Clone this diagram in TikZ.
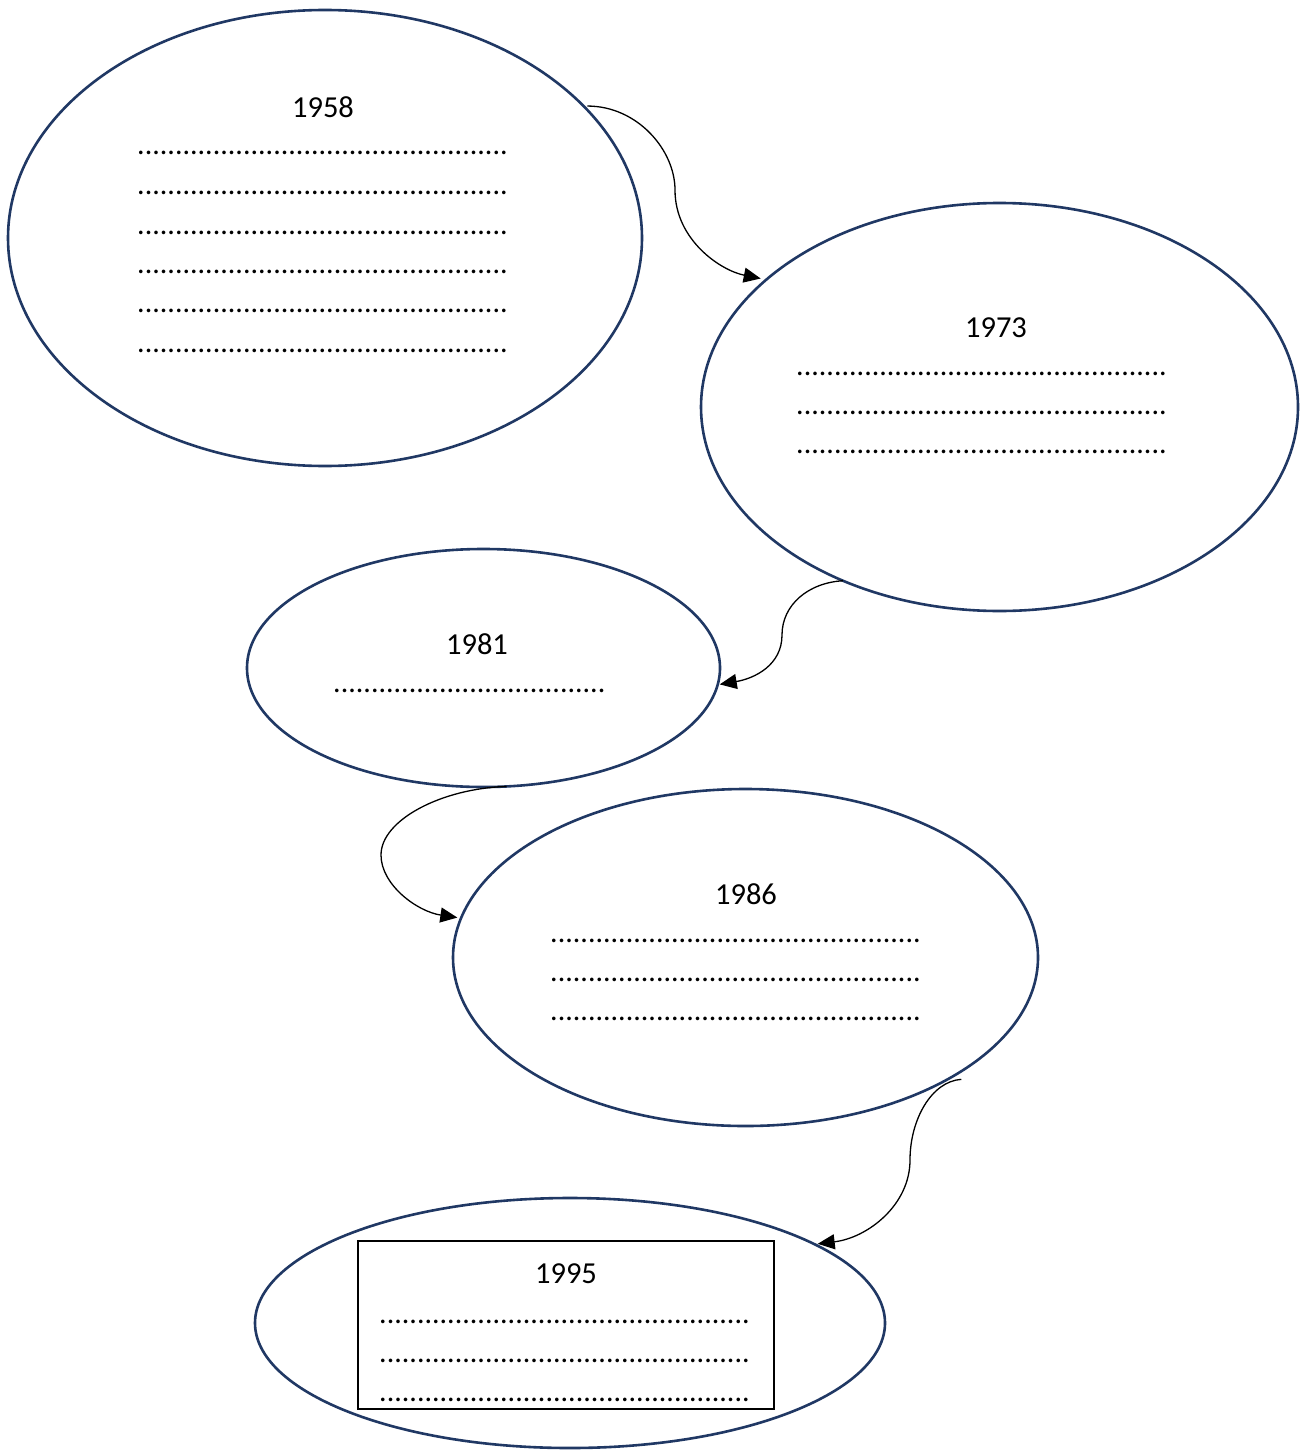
\documentclass[tikz,border=0pt]{standalone}
\usepackage{fontspec}
\setmainfont{Carlito}
\usetikzlibrary{shapes.geometric,arrows.meta}
\definecolor{navy}{HTML}{203864}
\def\dotsA{.................................................}
\def\dotsB{....................................}
\tikzset{
  bubble/.style={ellipse,draw=navy,line width=2.6pt,inner sep=0pt,outer sep=0pt},
  year/.style={anchor=base,inner sep=0pt,font=\fontsize{30.5}{36}\selectfont},
  dotline/.style={anchor=base west,inner sep=0pt,font=\fontsize{30}{36}\selectfont},
  link/.style={draw=black,line width=1.3pt,-{Triangle[length=17pt,width=15pt]}}
}
\begin{document}
\begin{tikzpicture}[x=1pt,y=-1pt]
\useasboundingbox[fill=white] (0,0) rectangle (1301,1450);
% ellipses
\node[bubble,minimum width=634pt,minimum height=456pt] (e1) at (325,238) {};
\node[bubble,minimum width=597pt,minimum height=408pt] (e2) at (999.5,407) {};
\node[bubble,minimum width=473pt,minimum height=238pt] (e3) at (483.5,668) {};
\node[bubble,minimum width=585pt,minimum height=337pt] (e4) at (745.5,957.5) {};
\node[bubble,minimum width=630pt,minimum height=250pt] (e5) at (570,1323) {};
\node[draw=black,line width=1.2pt,minimum width=416pt,minimum height=168pt,inner sep=0pt] (box) at (566,1325) {};
% texts
\node[year] (y1) at (323,118) {1958};
\foreach \yy [count=\i] in {155,194,234,273,312,352}
  \node[dotline] (d1-\i) at (137,\yy) {\dotsA};
\node[year] (y2) at (996,337) {1973};
\foreach \yy [count=\i] in {375,414,453}
  \node[dotline] (d2-\i) at (796,\yy) {\dotsA};
\node[year] (y3) at (477,654) {1981};
\node[dotline] (d3-1) at (333,692) {\dotsB};
\node[year] (y4) at (746,904) {1986};
\foreach \yy [count=\i] in {942,981,1020}
  \node[dotline] (d4-\i) at (550,\yy) {\dotsA};
\node[year] (y5) at (566,1283) {1995};
\foreach \yy [count=\i] in {1323,1362,1401}
  \node[dotline] (d5-\i) at (379,\yy) {\dotsA};
% connectors
\coordinate (m1) at (675,190);
\coordinate (m2) at (782,635);
\coordinate (m3) at (381,855);
\coordinate (m4) at (910,1160);
\draw[link] ([yshift=4pt]e1.26.7) .. controls +(50,0) and +(0,-40) .. (m1)
  .. controls +(0,50) and +(-40,-8) .. ([xshift=-7pt]e2.151.9);
\draw[link] (e2.228.9) .. controls +(-35,2) and +(0,-30) .. (m2)
  .. controls +(0,30) and +(35,-6) .. ([xshift=2pt]e3.-4.8);
\draw[link] (e3.-79.8) .. controls +(-65,2) and +(0,-35) .. (m3)
  .. controls +(0,30) and +(-40,-6) .. ([xshift=-4pt]e4.172.3);
\draw[link] ([xshift=5pt,yshift=-5pt]e4.-29.7) .. controls +(-30,2) and +(0,-40) .. (m4)
  .. controls +(0,45) and +(50,-6) .. ([xshift=4pt]e5.18.2);
\end{tikzpicture}
\end{document}
